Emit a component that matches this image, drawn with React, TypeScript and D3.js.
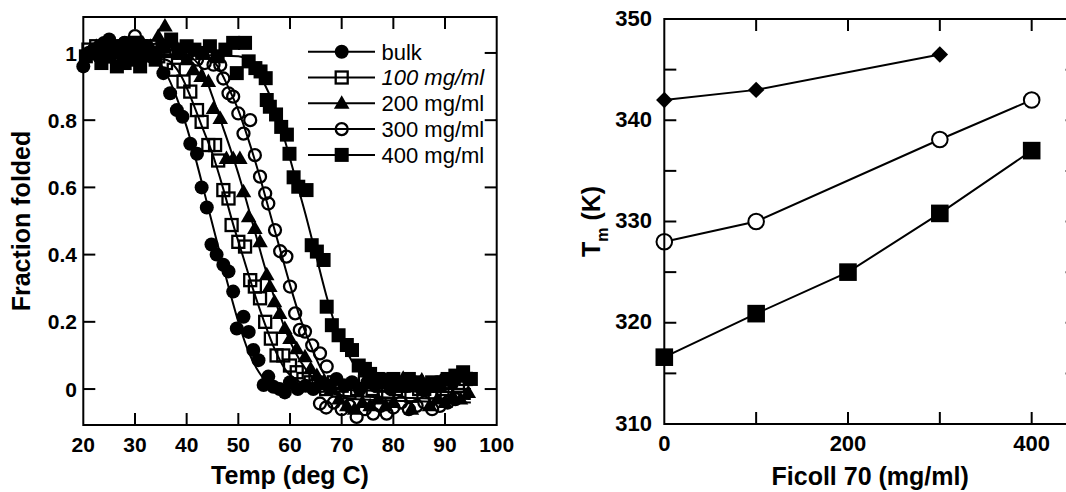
import * as d3 from 'd3';

type Pt = [number, number];

// ---- left panel: fraction folded vs temperature ----
const tempTicks = [20, 30, 40, 50, 60, 70, 80, 90, 100];
const fracTicks = [0, 0.2, 0.4, 0.6, 0.8, 1];
const fracTickLabels = ['0', '0.2', '0.4', '0.6', '0.8', '1'];

const bulk: Pt[] = [
  [20, 0.96], [21, 1.0], [22, 1.01], [23, 0.99], [24, 1.03], [25, 1.04], [26, 1.0], [27, 1.02],
  [28, 1.03], [29, 1.01], [30, 1.03], [31, 1.0], [32, 1.02], [33, 0.99], [34, 1.0], [35.5, 0.94],
  [36.8, 0.88], [38.1, 0.83], [39.2, 0.81], [40.7, 0.73], [42, 0.7], [42.9, 0.6], [43.9, 0.54],
  [44.8, 0.43], [45.8, 0.4], [47.1, 0.37], [48.1, 0.35], [49, 0.29], [49.7, 0.18], [51, 0.215],
  [52, 0.17], [52.9, 0.116], [53.9, 0.086], [54.9, 0.012], [55.8, 0.037], [56.8, 0.007], [58, 0.0],
  [59, -0.01], [60, 0.02], [61.5, 0.0], [63, 0.01], [64.5, 0.0], [66, 0.02], [67.5, 0.01], [69, 0.03],
  [70.5, 0.01], [72, 0.02], [73.5, 0.0], [75, 0.02], [76.5, 0.01], [78, 0.03], [79.5, 0.0], [81, 0.02],
  [82.5, 0.01], [84, 0.02], [85.5, 0.0], [87, 0.01], [88.5, 0.02], [90, 0.03], [91.5, 0.02], [93, 0.04],
  [94.5, 0.03],
];
const mg100: Pt[] = [
  [21, 1.01], [22.5, 1.02], [24, 1.0], [25.5, 0.99], [27, 1.02], [28.5, 1.01], [30, 1.03], [31.5, 1.0],
  [33, 1.02], [34.5, 0.99], [36, 0.97], [37.5, 0.95], [39.4, 0.915], [40.7, 0.885], [42, 0.83],
  [42.9, 0.795], [44.2, 0.726], [45.5, 0.726], [46.1, 0.68], [47.1, 0.592], [48.1, 0.567], [48.7, 0.488],
  [50, 0.438], [51.3, 0.424], [52.3, 0.324], [53.2, 0.305], [54.2, 0.27], [55.2, 0.2], [56.3, 0.15],
  [57.4, 0.1], [58.7, 0.1], [60, 0.07], [61.3, 0.05], [62.6, 0.03], [64, 0.02], [65.5, 0.01], [67, 0.0],
  [68.5, 0.02], [70, 0.01], [71.5, -0.01], [73, 0.0], [74.5, 0.02], [76, 0.0], [77.5, 0.01], [79, -0.01],
  [80.5, 0.0], [82, 0.01], [83.5, -0.02], [85, 0.0], [86.5, 0.01], [88, -0.01], [89.5, 0.0], [91, 0.02],
  [92.5, 0.01], [94, 0.03],
];
const mg200: Pt[] = [
  [21, 1.0], [22.5, 1.02], [24, 1.01], [25.5, 1.03], [27, 1.0], [28.5, 1.02], [30, 1.01], [31.5, 1.03],
  [33, 1.02], [34.5, 1.05], [35.8, 1.08], [37, 1.03], [38.5, 1.01], [40, 0.98], [41.3, 0.95], [42.8, 0.93],
  [44.2, 0.915], [45.2, 0.835], [46.5, 0.805], [47.7, 0.686], [49, 0.686], [50.3, 0.686], [51, 0.587],
  [52, 0.513], [53.2, 0.478], [54.2, 0.438], [55.5, 0.34], [56.1, 0.305], [57, 0.26], [58, 0.225],
  [59, 0.18], [60, 0.15], [61.3, 0.12], [62.9, 0.096], [64, 0.06], [65.2, 0.04], [66.5, 0.02], [68, 0.0],
  [69.5, -0.03], [71, -0.05], [72.5, -0.06], [74, -0.04], [75.5, -0.05], [77, -0.03], [78.5, -0.05],
  [80, -0.04], [81.9, 0.032], [83.5, -0.06], [85.5, 0.027], [87, -0.05], [88.5, -0.03], [90, -0.04],
  [91.5, -0.02], [93, -0.03], [94.5, -0.01],
];
const mg300: Pt[] = [
  [22, 1.0], [24, 1.02], [26, 1.01], [28, 1.03], [30, 1.05], [32, 1.02], [34, 1.01], [36, 1.02], [38, 1.0],
  [40, 0.99], [42, 0.98], [43.5, 0.97], [45.2, 0.965], [46.5, 0.964], [47.1, 0.924], [48.1, 0.88],
  [49, 0.87], [50, 0.82], [51, 0.76], [52.3, 0.8], [53.2, 0.696], [54.2, 0.632], [55.2, 0.582],
  [55.8, 0.552], [57.1, 0.473], [58.1, 0.41], [59.3, 0.394], [60, 0.305], [61, 0.225], [61.9, 0.176],
  [62.9, 0.171], [64.3, 0.13], [65.8, 0.106], [67.1, 0.067], [65.8, -0.043], [67, -0.055], [68.5, -0.04],
  [70, -0.06], [71.5, -0.05], [72.9, -0.083], [74.5, -0.06], [76.1, -0.073], [77.5, -0.05], [78.7, -0.073],
  [80, -0.055], [81.5, -0.04], [83, -0.06], [84.5, -0.05], [86, -0.04], [87.5, -0.06], [89, -0.05],
  [90.5, -0.04], [92, -0.03],
];
const mg400: Pt[] = [
  [20.5, 0.99], [22, 1.0], [23.5, 0.97], [25, 0.99], [26.5, 0.96], [28, 0.97], [29.5, 0.98], [31, 0.96],
  [32.5, 1.0], [34, 0.98], [35.5, 1.02], [37, 1.04], [38.5, 1.0], [40, 1.02], [41.5, 1.01], [43, 1.0],
  [44.5, 1.02], [46, 0.99], [47.5, 1.01], [49, 1.03], [49.7, 0.94], [51.3, 1.03], [52, 0.975],
  [53.3, 0.955], [54.3, 0.945], [55.3, 0.925], [55.5, 0.86], [56.1, 0.84], [57.3, 0.817], [58.3, 0.78],
  [59.4, 0.757], [59.9, 0.7], [60.7, 0.63], [61.6, 0.602], [63.2, 0.592], [64.2, 0.428], [65.2, 0.409],
  [66.5, 0.384], [67.1, 0.245], [68.1, 0.19], [69.4, 0.16], [71, 0.131], [72, 0.116], [73.3, 0.07],
  [74.5, 0.06], [75.5, 0.045], [77, 0.03], [78.5, 0.02], [80, 0.03], [81.5, 0.01], [83, 0.03], [84.5, 0.02],
  [86, 0.0], [87.5, 0.02], [89, 0.01], [90.5, 0.03], [92, 0.04], [93.5, 0.05], [95, 0.03],
];

// fitted curves
const bulkFit: Pt[] = [
  [20, 1.0], [33, 0.99], [36, 0.94], [38, 0.87], [40, 0.78], [42, 0.67], [44, 0.55], [46, 0.43],
  [48, 0.31], [50, 0.2], [52, 0.11], [54, 0.05], [56, 0.015], [60, 0.005], [95, 0.0],
];
const fit100: Pt[] = [
  [20, 1.0], [36, 0.98], [39, 0.93], [41, 0.86], [43, 0.78], [45, 0.7], [47, 0.6], [49, 0.49],
  [51, 0.39], [53, 0.29], [55, 0.2], [57, 0.12], [59, 0.06], [62, 0.02], [66, 0.0], [95, -0.01],
];
const fit200: Pt[] = [
  [20, 1.0], [40, 0.99], [43, 0.95], [45, 0.87], [47, 0.78], [49, 0.69], [51, 0.59], [53, 0.48],
  [55, 0.37], [57, 0.27], [59, 0.18], [61, 0.11], [63, 0.06], [66, 0.01], [70, -0.02], [95, -0.03],
];
const fit300: Pt[] = [
  [20, 1.0], [44, 0.99], [46, 0.96], [48, 0.9], [50, 0.83], [52, 0.74], [54, 0.64], [56, 0.53],
  [58, 0.42], [60, 0.31], [62, 0.21], [64, 0.13], [66, 0.06], [68, 0.01], [72, -0.03], [95, -0.04],
];
const fit400: Pt[] = [
  [20, 1.0], [50, 0.99], [53, 0.96], [55, 0.91], [57, 0.84], [59, 0.74], [61, 0.63], [63, 0.52],
  [65, 0.4], [67, 0.28], [69, 0.18], [71, 0.11], [73, 0.06], [75, 0.03], [78, 0.01], [95, 0.0],
];

const legendLabels = ['bulk', '100 mg/ml', '200 mg/ml', '300 mg/ml', '400 mg/ml'];

// ---- right panel: Tm vs Ficoll 70 ----
const ficollTicks = [0, 100, 200, 300, 400];
const ficollLabels = [0, 200, 400];
const tmTicks = [310, 315, 320, 325, 330, 335, 340, 345, 350];
const tmLabels = [310, 320, 330, 340, 350];

const diamondX = [0, 100, 300];
const diamondTm = [342, 343, 346.5];
const circleX = [0, 100, 300, 400];
const circleTm = [328, 330, 338.1, 342];
const squareX = [0, 100, 200, 300, 400];
const squareTm = [316.6, 320.9, 325, 330.8, 337];

const FONT = '"Liberation Sans", Arial, Helvetica, sans-serif';

type Kind = 'dot' | 'osq' | 'tri' | 'ocirc' | 'sq' | 'diamond' | 'bigocirc' | 'bigsq';

function Marker({ kind, x, y }: { kind: Kind; x: number; y: number }) {
  switch (kind) {
    case 'dot':
      return <circle cx={x} cy={y} r={7} fill="#000" />;
    case 'osq':
      return <rect x={x - 6} y={y - 6} width={12} height={12} fill="none" stroke="#000" strokeWidth={2.3} />;
    case 'tri':
      return (
        <path
          d={d3.symbol().type(d3.symbolTriangle).size(105)()!}
          transform={`translate(${x},${y + 1})`}
          fill="#000"
        />
      );
    case 'ocirc':
      return <circle cx={x} cy={y} r={6} fill="none" stroke="#000" strokeWidth={2.3} />;
    case 'sq':
      return <rect x={x - 7} y={y - 7} width={14} height={14} fill="#000" />;
    case 'diamond':
      return (
        <path
          d={d3.symbol().type(d3.symbolSquare).size(135)()!}
          transform={`translate(${x},${y}) rotate(45)`}
          fill="#000"
        />
      );
    case 'bigocirc':
      return <circle cx={x} cy={y} r={7.8} fill="#fff" stroke="#000" strokeWidth={2} />;
    case 'bigsq':
      return <rect x={x - 8.8} y={y - 8.8} width={17.6} height={17.6} fill="#000" />;
  }
  return null;
}

export default function App() {
  // left panel
  const xL = d3.scaleLinear().domain([20, 100]).range([83.3, 496.7]);
  const yL = d3.scaleLinear().domain([-0.107, 1.107]).range([425, 17]);
  const [l0, l1] = xL.range();
  const [b0, t0] = yL.range();

  const series: { data: Pt[]; fit: Pt[]; kind: Kind }[] = [
    { data: mg400, fit: fit400, kind: 'sq' },
    { data: mg300, fit: fit300, kind: 'ocirc' },
    { data: mg200, fit: fit200, kind: 'tri' },
    { data: mg100, fit: fit100, kind: 'osq' },
    { data: bulk, fit: bulkFit, kind: 'dot' },
  ];
  const legendKinds: Kind[] = ['dot', 'osq', 'tri', 'ocirc', 'sq'];

  const fitLine = d3
    .line<Pt>()
    .x((d) => xL(d[0]))
    .y((d) => yL(d[1]))
    .curve(d3.curveMonotoneX);

  // right panel
  const xR = d3.scaleLinear().domain([0, 450]).range([664.3, 1077.6]);
  const yR = d3.scaleLinear().domain([310, 350]).range([424, 19]);
  const [r0, r1] = xR.range();
  const [rb, rt] = yR.range();
  const tmLine = d3
    .line<[number, number]>()
    .x((d) => xR(d[0]))
    .y((d) => yR(d[1]));
  const diamonds = diamondX.map((x, i) => [x, diamondTm[i]] as [number, number]);
  const circles = circleX.map((x, i) => [x, circleTm[i]] as [number, number]);
  const squares = squareX.map((x, i) => [x, squareTm[i]] as [number, number]);

  const tick = 12;

  return (
    <svg
      width={1066}
      height={492}
      style={{ position: 'absolute', left: 0, top: 0, background: '#fff' }}
      fontFamily={FONT}
    >
      <rect width={1066} height={492} fill="#fff" />

      {/* ===== left panel ===== */}
      {series.map((s, i) => (
        <path key={'f' + i} d={fitLine(s.fit)!} fill="none" stroke="#000" strokeWidth={2} />
      ))}
      {series.map((s, i) => (
        <g key={'s' + i}>
          {s.data.map((d, j) => (
            <Marker key={j} kind={s.kind} x={xL(d[0])} y={yL(d[1])} />
          ))}
        </g>
      ))}

      <rect x={l0} y={t0} width={l1 - l0} height={b0 - t0} fill="none" stroke="#000" strokeWidth={2} />
      {tempTicks.slice(1, -1).map((t) => (
        <g key={'xt' + t}>
          <line x1={xL(t)} x2={xL(t)} y1={b0} y2={b0 - tick} stroke="#000" strokeWidth={2} />
          <line x1={xL(t)} x2={xL(t)} y1={t0} y2={t0 + tick} stroke="#000" strokeWidth={2} />
        </g>
      ))}
      {tempTicks.map((t) => (
        <text key={'xl' + t} x={xL(t)} y={452} textAnchor="middle" fontSize={21} fontWeight="bold">
          {t}
        </text>
      ))}
      {fracTicks.map((v, i) => (
        <g key={'yt' + v}>
          <line x1={l0} x2={l0 + tick} y1={yL(v)} y2={yL(v)} stroke="#000" strokeWidth={2} />
          <line x1={l1} x2={l1 - tick} y1={yL(v)} y2={yL(v)} stroke="#000" strokeWidth={2} />
          <text x={77} y={yL(v)} dy="0.36em" textAnchor="end" fontSize={21} fontWeight="bold">
            {fracTickLabels[i]}
          </text>
        </g>
      ))}
      <text x={(l0 + l1) / 2} y={484} textAnchor="middle" fontSize={25} fontWeight="bold">
        Temp (deg C)
      </text>
      <text
        transform={`translate(30,${(b0 + t0) / 2}) rotate(-90)`}
        textAnchor="middle"
        fontSize={25}
        fontWeight="bold"
      >
        Fraction folded
      </text>

      {/* legend */}
      {legendLabels.map((lab, i) => {
        const y = 51.7 + i * 25.8;
        return (
          <g key={'lg' + i}>
            <line x1={308} x2={375} y1={y} y2={y} stroke="#000" strokeWidth={2} />
            <Marker kind={legendKinds[i]} x={341.7} y={y} />
            <text
              x={381.5}
              y={y}
              dy="0.36em"
              fontSize={22}
              fontStyle={i === 1 ? 'italic' : 'normal'}
            >
              {lab}
            </text>
          </g>
        );
      })}

      {/* ===== right panel ===== */}
      <path d={tmLine(diamonds)!} fill="none" stroke="#000" strokeWidth={2} />
      <path d={tmLine(circles)!} fill="none" stroke="#000" strokeWidth={2} />
      <path d={tmLine(squares)!} fill="none" stroke="#000" strokeWidth={2} />
      {diamonds.map((d, i) => (
        <Marker key={'d' + i} kind="diamond" x={xR(d[0])} y={yR(d[1])} />
      ))}
      {circles.map((d, i) => (
        <Marker key={'c' + i} kind="bigocirc" x={xR(d[0])} y={yR(d[1])} />
      ))}
      {squares.map((d, i) => (
        <Marker key={'q' + i} kind="bigsq" x={xR(d[0])} y={yR(d[1])} />
      ))}

      <rect x={r0} y={rt} width={r1 - r0} height={rb - rt} fill="none" stroke="#000" strokeWidth={2} />
      {ficollTicks.slice(1).map((t) => (
        <g key={'rxt' + t}>
          <line x1={xR(t)} x2={xR(t)} y1={rb} y2={rb - tick} stroke="#000" strokeWidth={2} />
          <line x1={xR(t)} x2={xR(t)} y1={rt} y2={rt + tick} stroke="#000" strokeWidth={2} />
        </g>
      ))}
      {ficollLabels.map((t) => (
        <text key={'rxl' + t} x={xR(t)} y={451} textAnchor="middle" fontSize={22} fontWeight="bold">
          {t}
        </text>
      ))}
      {tmTicks.slice(1, -1).map((v) => (
        <g key={'ryt' + v}>
          <line x1={r0} x2={r0 + tick} y1={yR(v)} y2={yR(v)} stroke="#000" strokeWidth={2} />
          <line x1={r1} x2={r1 - tick} y1={yR(v)} y2={yR(v)} stroke="#000" strokeWidth={2} />
        </g>
      ))}
      {tmLabels.map((v) => (
        <text key={'ryl' + v} x={652} y={yR(v)} dy="0.3em" textAnchor="end" fontSize={22} fontWeight="bold">
          {v}
        </text>
      ))}
      <text x={(r0 + 1066) / 2 + 5} y={485} textAnchor="middle" fontSize={25} fontWeight="bold">
        Ficoll 70 (mg/ml)
      </text>
      <text
        transform={`translate(600,${(rb + rt) / 2}) rotate(-90)`}
        textAnchor="middle"
        fontSize={25}
        fontWeight="bold"
      >
        T<tspan fontSize={16} dy={8}>m</tspan>
        <tspan dy={-8}> (K)</tspan>
      </text>
    </svg>
  );
}
